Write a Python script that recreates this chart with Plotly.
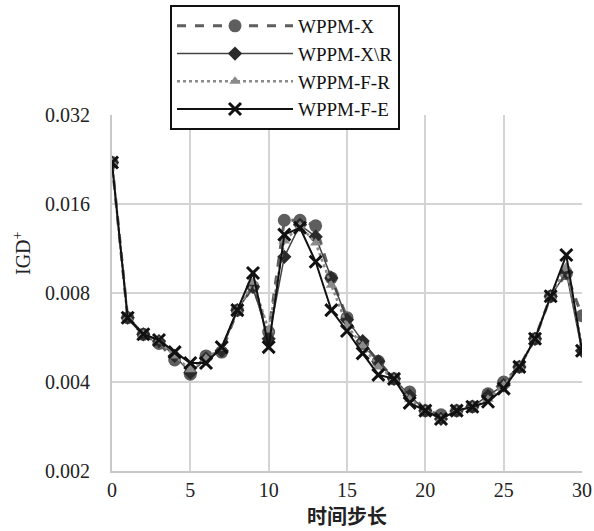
import plotly.graph_objects as go

steps = list(range(31))

wppm_x = [0.0221, 0.0066, 0.0058, 0.0054, 0.00475, 0.00425, 0.0049, 0.00505, 0.0070, 0.0084,
          0.0059, 0.0141, 0.0141, 0.0135, 0.0090, 0.0066, 0.0054, 0.0047, 0.0041, 0.0037,
          0.0032, 0.0031, 0.0032, 0.0033, 0.00365, 0.0040, 0.0045, 0.0056, 0.0078, 0.0093, 0.0067]

wppm_xr = [0.0221, 0.0066, 0.0058, 0.0055, 0.0049, 0.0043, 0.0048, 0.0051, 0.0070, 0.0084,
           0.0056, 0.0106, 0.0136, 0.0124, 0.0090, 0.0065, 0.0055, 0.0047, 0.0041, 0.0036,
           0.0032, 0.0030, 0.0032, 0.0033, 0.0036, 0.0039, 0.0045, 0.0056, 0.0078, 0.0094, 0.0051]

wppm_fr = [0.0221, 0.0066, 0.0058, 0.0055, 0.0049, 0.0044, 0.0048, 0.0052, 0.0070, 0.0087,
           0.0060, 0.0120, 0.0135, 0.0118, 0.0085, 0.0062, 0.0053, 0.0045, 0.0041, 0.0035,
           0.0032, 0.0030, 0.0032, 0.0033, 0.0035, 0.0039, 0.0045, 0.0056, 0.0078, 0.0098, 0.0053]

wppm_fe = [0.0221, 0.0066, 0.0058, 0.00555, 0.00505, 0.00464, 0.00464, 0.00525, 0.0070, 0.00935,
           0.00525, 0.0126, 0.0133, 0.0102, 0.0070, 0.00595, 0.0050, 0.00423, 0.0041, 0.0034,
           0.0032, 0.0030, 0.0032, 0.0033, 0.00343, 0.0038, 0.0045, 0.0056, 0.0078, 0.01075, 0.0051]

y_ticks = [0.002, 0.004, 0.008, 0.016, 0.032]
y_tick_text = ["0.002", "0.004", "0.008", "0.016", "0.032"]
x_ticks = [0, 5, 10, 15, 20, 25, 30]

FONT = "Liberation Serif, Times New Roman, serif"

fig = go.Figure()
fig.add_trace(go.Scatter(
    x=steps, y=wppm_x, name="WPPM-X", mode="lines+markers",
    line=dict(color="#5e5e5e", width=3, dash="dash"),
    marker=dict(symbol="circle", size=13, color="#5e5e5e"),
))
fig.add_trace(go.Scatter(
    x=steps, y=wppm_xr, name="WPPM-X\\R", mode="lines+markers",
    line=dict(color="#444444", width=1.5),
    marker=dict(symbol="diamond", size=11, color="#2a2a2a"),
))
fig.add_trace(go.Scatter(
    x=steps, y=wppm_fr, name="WPPM-F-R", mode="lines+markers",
    line=dict(color="#8a8a8a", width=2.5, dash="dot"),
    marker=dict(symbol="triangle-up", size=10, color="#8a8a8a"),
))
fig.add_trace(go.Scatter(
    x=steps, y=wppm_fe, name="WPPM-F-E", mode="lines+markers",
    line=dict(color="#111111", width=2),
    marker=dict(symbol="x-thin", size=12, line=dict(width=3, color="#111111"), color="#111111"),
))

fig.update_layout(
    width=594, height=531,
    margin=dict(l=112, r=12, t=115, b=60, autoexpand=False),
    paper_bgcolor="white", plot_bgcolor="white",
    font=dict(family=FONT, size=20, color="#222222"),
    showlegend=True,
    legend=dict(
        x=(170 - 112) / 470, y=(471 - 5) / 356, xanchor="left", yanchor="top",
        bordercolor="#111111", borderwidth=2, bgcolor="white",
        font=dict(family=FONT, size=19, color="#111111"),
        itemwidth=116, tracegroupgap=0,
    ),
    xaxis=dict(
        range=[0, 30], tickvals=x_ticks, showgrid=True, gridcolor="#d4d4d4", gridwidth=2,
        zeroline=False, showline=True, linecolor="#c8c8c8", linewidth=2, automargin=False,
        ticks="", tickfont=dict(family=FONT, size=20, color="#222222"),
        title=dict(text="时间步长",
                   font=dict(family="Noto Sans CJK SC", size=20, color="#222222", weight="bold"),
                   standoff=0),
    ),
    yaxis=dict(
        type="log", range=[-2.69897, -1.49485], tickvals=y_ticks, ticktext=y_tick_text,
        showgrid=True, gridcolor="#d4d4d4", gridwidth=2, zeroline=False, automargin=False,
        showline=True, linecolor="#c8c8c8", linewidth=2, ticks="",
        ticklabelstandoff=16, tickfont=dict(family=FONT, size=20, color="#222222"),
    ),
)
fig.add_annotation(
    text="IGD<sup>+</sup>", xref="paper", yref="paper",
    x=(22 - 112) / 470, y=(471 - 253) / 356, xanchor="center", yanchor="middle",
    textangle=-90, showarrow=False,
    font=dict(family=FONT, size=20, color="#222222"),
)
fig.write_html("out.html")
